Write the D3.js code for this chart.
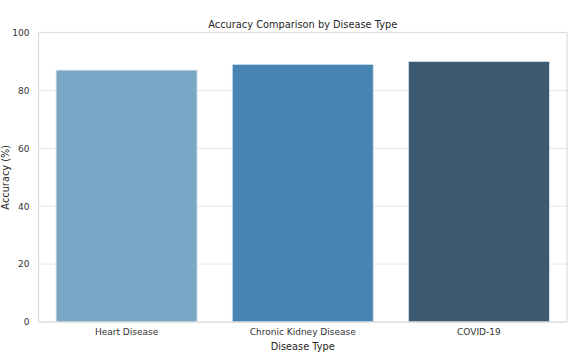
<!DOCTYPE html>
<html>
<head>
<meta charset="utf-8">
<script src="https://cdn.jsdelivr.net/npm/d3@7/dist/d3.min.js"></script>
<style>
  html, body { margin: 0; padding: 0; background: #fff; }
  text { font-family: "DejaVu Sans", sans-serif; fill: #262626; }
</style>
</head>
<body>
<svg id="chart" width="583" height="358"></svg>
<script>
const categories = ["Heart Disease", "Chronic Kidney Disease", "COVID-19"];
const accuracy = [87, 89, 90];
const barColors = ["#7ba7c7", "#4884b1", "#3c5a71"];
const yTicks = [0, 20, 40, 60, 80, 100];
const title = "Accuracy Comparison by Disease Type";
const xTitle = "Disease Type";
const yTitle = "Accuracy (%)";

const W = 583, H = 358;
const margin = { top: 32.5, right: 16, bottom: 36, left: 38.5 };
const svg = d3.select("#chart");
const iw = W - margin.left - margin.right;
const ih = H - margin.top - margin.bottom;
const g = svg.append("g").attr("transform", `translate(${margin.left},${margin.top})`);

const x = d3.scaleBand().domain(categories).range([0, iw]).paddingInner(0.2).paddingOuter(0.1);
const y = d3.scaleLinear().domain([0, 100]).range([ih, 0]);

// grid
g.append("g").selectAll("line").data(yTicks).join("line")
  .attr("x1", 0).attr("x2", iw)
  .attr("y1", d => y(d)).attr("y2", d => y(d))
  .attr("stroke", "#e5e5e5").attr("stroke-width", 1);

// bars
g.append("g").selectAll("rect").data(categories).join("rect")
  .attr("x", d => x(d))
  .attr("width", x.bandwidth())
  .attr("y", (d, i) => y(accuracy[i]))
  .attr("height", (d, i) => y(0) - y(accuracy[i]))
  .attr("fill", (d, i) => barColors[i])
  .attr("stroke", "#d8e4ee").attr("stroke-width", 0.8);

// frame
g.append("rect").attr("x", 0).attr("y", 0).attr("width", iw).attr("height", ih)
  .attr("fill", "none").attr("stroke", "#dcdcdc").attr("stroke-width", 1.2);

// y axis
const yAxis = g.append("g").call(d3.axisLeft(y).tickValues(yTicks).tickSize(0).tickPadding(9));
yAxis.select(".domain").remove();
yAxis.selectAll("text").style("font-size", "9px").style("fill", "#333");

// x axis
const xAxis = g.append("g").attr("transform", `translate(0,${ih})`)
  .call(d3.axisBottom(x).tickSize(0).tickPadding(7));
xAxis.select(".domain").remove();
xAxis.selectAll("text").style("font-size", "9px").style("fill", "#333");

// titles
svg.append("text").attr("x", margin.left + iw / 2).attr("y", 27.5)
  .attr("text-anchor", "middle").style("font-size", "9.8px").text(title);
svg.append("text").attr("x", margin.left + iw / 2).attr("y", 350)
  .attr("text-anchor", "middle").style("font-size", "9.8px").text(xTitle);
svg.append("text").attr("transform", `translate(8.5,${margin.top + ih / 2}) rotate(-90)`)
  .attr("text-anchor", "middle").style("font-size", "9.8px").text(yTitle);
</script>
</body>
</html>
